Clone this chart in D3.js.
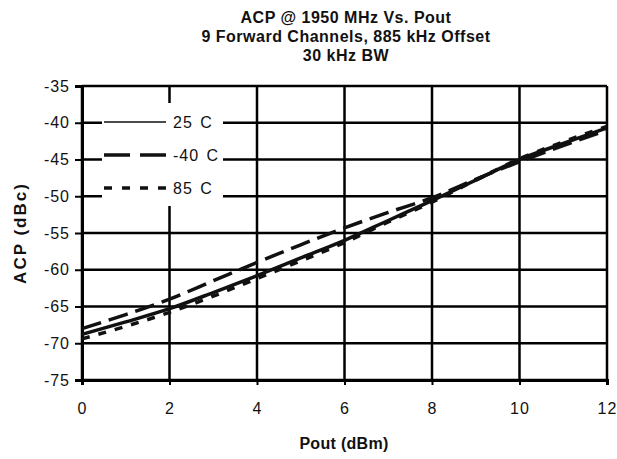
<!DOCTYPE html>
<html><head><meta charset="utf-8">
<script src="https://cdn.jsdelivr.net/npm/d3@7/dist/d3.min.js"></script>
<style>body{margin:0;background:#fff}svg{display:block}text{font-family:"Liberation Sans",Arial,sans-serif;fill:#111}</style>
</head><body>
<script>
const titleLines = ["ACP @ 1950 MHz Vs. Pout", "9 Forward Channels, 885 kHz Offset", "30 kHz BW"];
const pout = [0,1,2,3,4,5,6,7,8,9,10,11,12];
const acp25 = [-68.8,-67.1,-65.3,-63.1,-60.8,-58.4,-56.0,-53.3,-50.6,-47.8,-45.0,-42.8,-40.7];
const acpM40 = [-68.0,-66.1,-64.0,-61.5,-59.0,-56.6,-54.3,-52.2,-50.2,-47.7,-45.3,-43.1,-41.0];
const acp85 = [-69.4,-67.7,-65.8,-63.6,-61.2,-58.8,-56.3,-53.5,-50.8,-47.8,-44.9,-42.6,-40.5];
const xTicks = [0,2,4,6,8,10,12];
const yTicks = [-35,-40,-45,-50,-55,-60,-65,-70,-75];
const seriesNames = ["25 C","-40 C","85 C"];

const W=617,H=459;
const svg=d3.select("body").append("svg").attr("width",W).attr("height",H);
const x=d3.scaleLinear().domain([0,12]).range([82,607]);
const y=d3.scaleLinear().domain([-75,-35]).range([380,86]);

// title
svg.append("g").selectAll("text").data(titleLines).join("text")
 .attr("x",346).attr("y",(d,i)=>23+i*19).attr("text-anchor","middle")
 .style("font-weight","bold").style("font-size","16px").style("letter-spacing","0.5px").text(d=>d);

// grid
const g=svg.append("g");
g.selectAll("line.h").data(yTicks).join("line").attr("class","h")
 .attr("x1",x(0)).attr("x2",x(12)).attr("y1",d=>y(d)).attr("y2",d=>y(d))
 .attr("stroke","#000").attr("stroke-width",2.5);
g.selectAll("line.v").data(xTicks).join("line").attr("class","v")
 .attr("y1",y(-75)).attr("y2",y(-35)).attr("x1",d=>x(d)).attr("x2",d=>x(d))
 .attr("stroke","#000").attr("stroke-width",2.5);

// axes
const yAx=svg.append("g").attr("transform",`translate(${x(0)},0)`)
 .call(d3.axisLeft(y).tickValues(yTicks).tickSize(7).tickPadding(5).tickFormat(d3.format("d")));
const xAx=svg.append("g").attr("transform",`translate(0,${y(-75)})`)
 .call(d3.axisBottom(x).tickValues(xTicks).tickSize(5).tickPadding(18));
[yAx,xAx].forEach(a=>{a.select(".domain").attr("stroke","#000").attr("stroke-width",3);
 a.selectAll(".tick line").attr("stroke","#000").attr("stroke-width",2);
 a.selectAll(".tick text").style("font-size","16px").style("letter-spacing","1px").style("fill","#111");});
yAx.selectAll(".tick text").text(d=>d3.format("d")(d).replace("−","-"));

// legend box
svg.append("rect").attr("x",102).attr("y",103).attr("width",121).attr("height",103).attr("fill","#fff");

// lines
const series=[{n:seriesNames[0],v:acp25,dash:null},{n:seriesNames[1],v:acpM40,dash:"20,8"},{n:seriesNames[2],v:acp85,dash:"8,9"}];
const line=d3.line().x((d,i)=>x(pout[i])).y(d=>y(d)).curve(d3.curveMonotoneX);
svg.append("g").selectAll("path").data(series).join("path")
 .attr("d",d=>line(d.v)).attr("fill","none").attr("stroke","#111").attr("stroke-width",3.5)
 .attr("stroke-dasharray",d=>d.dash);

// legend
const lg=svg.append("g").selectAll("g").data(series).join("g")
 .attr("transform",(d,i)=>`translate(0,${122+i*33})`);
lg.append("line").attr("x1",104).attr("x2",166).attr("stroke","#111").attr("stroke-width",d=>d.dash?3.5:1.5)
 .attr("stroke-dasharray",d=>d.dash?(d.dash==="20,8"?"26,10":"8,10"):null);
lg.append("text").attr("x",173).attr("y",6).style("font-size","16px").style("letter-spacing","1px")
 .style("word-spacing","2px").text(d=>d.n);

// axis titles
svg.append("text").attr("x",344).attr("y",449).attr("text-anchor","middle")
 .style("font-weight","bold").style("font-size","16px").style("letter-spacing","0.3px").text("Pout (dBm)");
svg.append("text").attr("transform","translate(26,233) rotate(-90)").attr("text-anchor","middle")
 .style("font-weight","bold").style("font-size","17px").style("letter-spacing","2px").text("ACP (dBc)");
</script>
</body></html>
